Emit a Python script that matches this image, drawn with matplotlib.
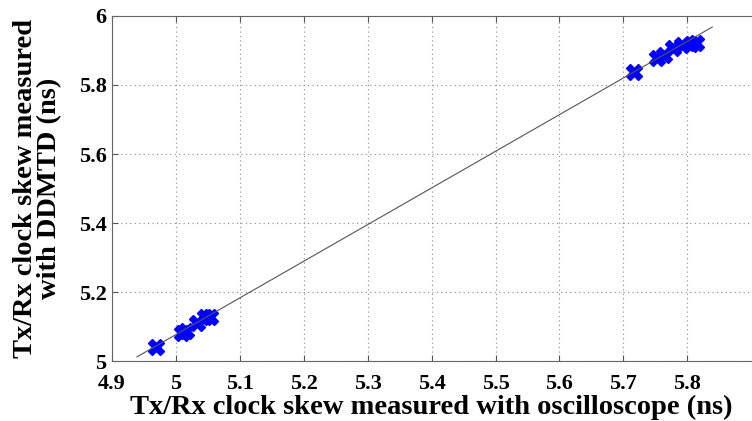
import numpy as np
import matplotlib
matplotlib.use("Agg")
import matplotlib.pyplot as plt

# measured skews (ns)
scope = [4.968, 5.009, 5.015, 5.033, 5.045, 5.054,
         5.716, 5.753, 5.764, 5.777, 5.791, 5.806, 5.814]
ddmtd = [5.041, 5.082, 5.088, 5.110, 5.128, 5.128,
         5.839, 5.878, 5.887, 5.907, 5.916, 5.920, 5.922]

# fitted line end points
fit_x = [4.939, 5.839]
fit_y = [5.012, 5.968]

xticks = [4.9, 5.0, 5.1, 5.2, 5.3, 5.4, 5.5, 5.6, 5.7, 5.8]
xticklabels = ["4.9", "5", "5.1", "5.2", "5.3", "5.4", "5.5", "5.6", "5.7", "5.8"]
yticks = [5.0, 5.2, 5.4, 5.6, 5.8, 6.0]
yticklabels = ["5", "5.2", "5.4", "5.6", "5.8", "6"]

plt.rcParams['font.family'] = ['Liberation Serif', 'DejaVu Serif']
plt.rcParams['font.weight'] = 'bold'

fig = plt.figure(figsize=(7.52, 4.21), dpi=100)
ax = fig.add_axes([0.149, 0.1425, 0.85, 0.8195])

ax.plot(scope, ddmtd, linestyle='none', marker='X', markersize=12,
        color='#0000ff', markeredgecolor='#0000ff', zorder=3)
ax.plot(fit_x, fit_y, color='#555555', linewidth=0.8, zorder=4)

ax.set_xlim(4.9, 5.9)
ax.set_ylim(5.0, 6.0)
ax.set_xticks(xticks)
ax.set_xticklabels(xticklabels)
ax.set_yticks(yticks)
ax.set_yticklabels(yticklabels)
ax.tick_params(direction='in', top=True, right=False, labelsize=16,
               color='#555555', length=4)
ax.tick_params(axis='x', pad=9)
ax.tick_params(axis='y', pad=4)
for s in ax.spines.values():
    s.set_color('#666666')
ax.spines['right'].set_visible(False)
ax.grid(True, linestyle=(0, (1, 3)), color='#888888', linewidth=0.8)
ax.set_axisbelow(True)

ax.set_xlabel("Tx/Rx clock skew measured with oscilloscope (ns)",
              fontsize=20.5, fontweight='bold', labelpad=1)
ax.set_ylabel("Tx/Rx clock skew measured\nwith DDMTD (ns)",
              fontsize=20.5, fontweight='bold', labelpad=12, linespacing=0.95)

fig.savefig("out.png", dpi=100)
